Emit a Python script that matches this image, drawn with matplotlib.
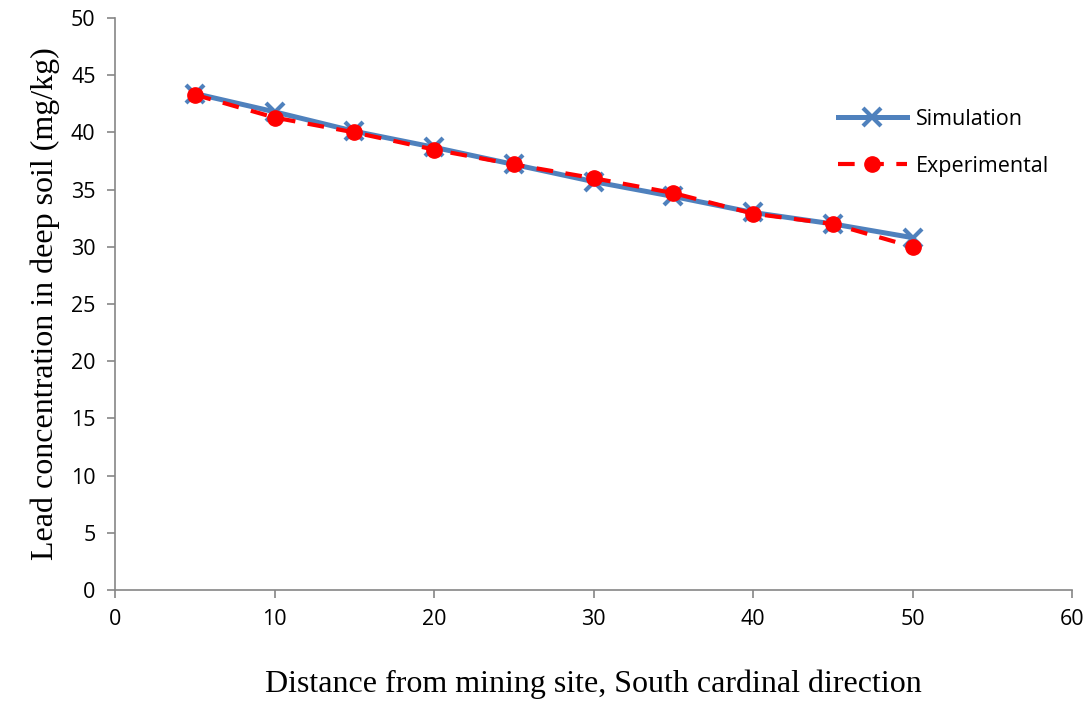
import matplotlib
matplotlib.use('Agg')
import matplotlib.pyplot as plt

# distance from mining site
distance = [5, 10, 15, 20, 25, 30, 35, 40, 45, 50]
# lead concentration in deep soil (mg/kg)
simulation = [43.4, 41.8, 40.1, 38.7, 37.2, 35.7, 34.4, 33.0, 32.0, 30.8]
experimental = [43.3, 41.3, 40.0, 38.5, 37.2, 36.0, 34.7, 32.9, 32.0, 30.0]

fig = plt.figure(figsize=(10.89, 7.04), dpi=100)
ax = fig.add_axes([115/1089, 114/704, (1072-115)/1089, (590-18)/704])

ax.plot(distance, simulation, '-x', color='#4F81BD', linewidth=3.6,
        markersize=13, markeredgewidth=3, label='Simulation')
ax.plot(distance, experimental, '--o', color='#FF0000', linewidth=3,
        markersize=11, dashes=(4, 3), label='Experimental')

ax.set_xlim(0, 60)
ax.set_ylim(0, 50)
ax.set_xticks(range(0, 61, 10))
ax.set_yticks(range(0, 51, 5))

for s in ['top', 'right']:
    ax.spines[s].set_visible(False)
for s in ['left', 'bottom']:
    ax.spines[s].set_color('#868686')
    ax.spines[s].set_linewidth(1.2)
ax.tick_params(direction='out', length=6, width=1.2, color='#868686',
               labelsize=15.5, pad=8)
for lab in ax.get_xticklabels() + ax.get_yticklabels():
    lab.set_family('Open Sans')

ax.set_xlabel('Distance from mining site, South cardinal direction',
              family='Liberation Serif', fontsize=23, labelpad=28)
ax.set_ylabel('Lead concentration in deep soil (mg/kg)',
              family='Liberation Serif', fontsize=23, labelpad=8)

leg = ax.legend(loc='upper left', bbox_to_anchor=(0.735, 0.875), frameon=False,
                prop={'family': 'Open Sans', 'size': 15.5}, handlelength=3.2,
                handletextpad=0.45, labelspacing=1.2)

plt.savefig('out.png', dpi=100)
